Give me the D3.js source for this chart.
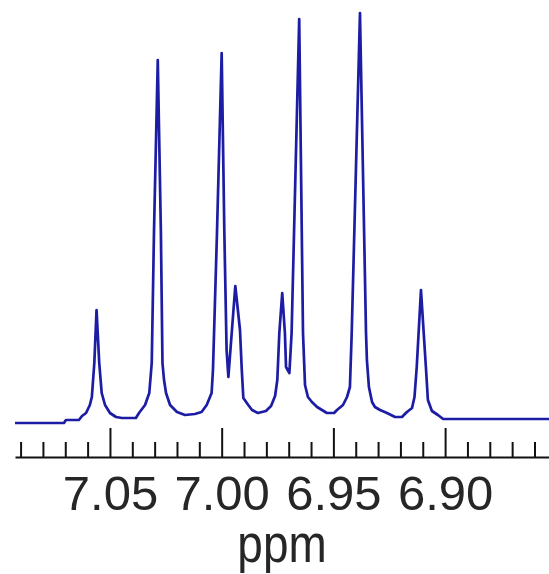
<!DOCTYPE html>
<html>
<head>
<meta charset="utf-8">
<script src="https://cdn.jsdelivr.net/npm/d3@7"></script>
<style>
  html, body { margin: 0; padding: 0; background: #ffffff; }
  svg { display: block; }
</style>
</head>
<body>
<svg id="chart" width="549" height="574"></svg>
<script>
// 1H NMR trace, aromatic region: chemical shift (ppm) and signal intensity
const shifts = [
  7.0925, 7.0706, 7.0697, 7.0639, 7.0625, 7.0607, 7.0590, 7.0581, 7.0570, 7.0560,
  7.0548, 7.0537, 7.0522, 7.0500, 7.0473, 7.0446, 7.0384, 7.0370, 7.0343, 7.0324,
  7.0313, 7.0303, 7.0286, 7.0272, 7.0265, 7.0258, 7.0249, 7.0231, 7.0200, 7.0164,
  7.0120, 7.0090, 7.0067, 7.0045, 7.0039, 7.0021, 7.0000, 6.9988, 6.9978, 6.9970,
  6.9939, 6.9918, 6.9910, 6.9903, 6.9881, 6.9864, 6.9838, 6.9802, 6.9779, 6.9761,
  6.9751, 6.9742, 6.9729, 6.9717, 6.9712, 6.9697, 6.9687, 6.9653, 6.9636, 6.9627,
  6.9614, 6.9596, 6.9573, 6.9551, 6.9529, 6.9497, 6.9484, 6.9457, 6.9439, 6.9426,
  6.9418, 6.9381, 6.9354, 6.9350, 6.9341, 6.9327, 6.9314, 6.9291, 6.9260, 6.9224,
  6.9193, 6.9171, 6.9148, 6.9137, 6.9127, 6.9108, 6.9086, 6.9077, 6.9059, 6.9032,
  6.9009, 6.8535
];
const intensity = [
    0,   0,   3,   3,   7,  10,  18,  26,  60, 113,
   60,  30,  18,  10,   6,   5,   5,  10,  18,  30,
   60, 190, 363, 190,  60,  43,  30,  18,  11,   8,
    9,  11,  18,  30,  53, 190, 370, 190,  73,  46,
  137,  93,  53,  25,  18,  13,  10,  12,  17,  27,
   43,  90, 130,  90,  56,  50,  90, 404,  90,  38,
   26,  21,  16,  13,  10,  10,  13,  18,  26,  36,
   90, 410,  90,  63,  36,  21,  16,  13,  10,   6,
    6,  11,  15,  26,  56, 133,  56,  23,  12,   8,
    4,   4
];

// axis ticks
const majorTicks = [7.05, 7.00, 6.95, 6.90];
const majorLabels = ["7.05", "7.00", "6.95", "6.90"];
const minorTicks = [7.09, 7.08, 7.07, 7.06, 7.04, 7.03, 7.02, 7.01, 6.99, 6.98, 6.97,
                    6.96, 6.94, 6.93, 6.92, 6.91, 6.89, 6.88, 6.87, 6.86];
const axisTitle = "ppm";

const svg = d3.select("#chart");

// chemical shift axis runs right-to-left (high ppm on the left)
const x = d3.scaleLinear().domain([7.0925, 6.8535]).range([15, 549]);
const y = d3.scaleLinear().domain([0, 410]).range([423, 13]);
const axisY = 457;

// spectrum trace
const pts = shifts.map((s, i) => [s, intensity[i]]);
const line = d3.line().x(d => x(d[0])).y(d => y(d[1]));
svg.append("path")
  .datum(pts)
  .attr("d", line)
  .attr("fill", "none")
  .attr("stroke", "#1c1ca4")
  .attr("stroke-width", 2.7)
  .attr("stroke-linejoin", "round");

// minor ticks
const minorAxis = d3.axisBottom(x)
  .tickValues(minorTicks)
  .tickSize(-15)
  .tickSizeOuter(0)
  .tickFormat("");
const gMinor = svg.append("g")
  .attr("transform", `translate(0,${axisY})`)
  .call(minorAxis);
gMinor.select(".domain").remove();

// major ticks with labels
const majorAxis = d3.axisBottom(x)
  .tickValues(majorTicks)
  .tickSize(-29)
  .tickSizeOuter(0)
  .tickFormat((d, i) => majorLabels[i]);
const gMajor = svg.append("g")
  .attr("transform", `translate(0,${axisY})`)
  .call(majorAxis);

svg.selectAll(".tick line")
  .attr("stroke", "#111")
  .attr("stroke-width", 2);
gMajor.select(".domain")
  .attr("stroke", "#111")
  .attr("stroke-width", 2);

gMajor.selectAll(".tick text")
  .attr("y", 53)
  .attr("dy", 0)
  .attr("fill", "#262626")
  .attr("font-family", "Arial, 'Liberation Sans', sans-serif")
  .attr("font-size", 49);

// axis title
svg.append("text")
  .attr("transform", "translate(282,562) scale(0.85,1)")
  .attr("text-anchor", "middle")
  .attr("fill", "#262626")
  .attr("font-family", "Arial, 'Liberation Sans', sans-serif")
  .attr("font-size", 54)
  .text(axisTitle);
</script>
</body>
</html>
